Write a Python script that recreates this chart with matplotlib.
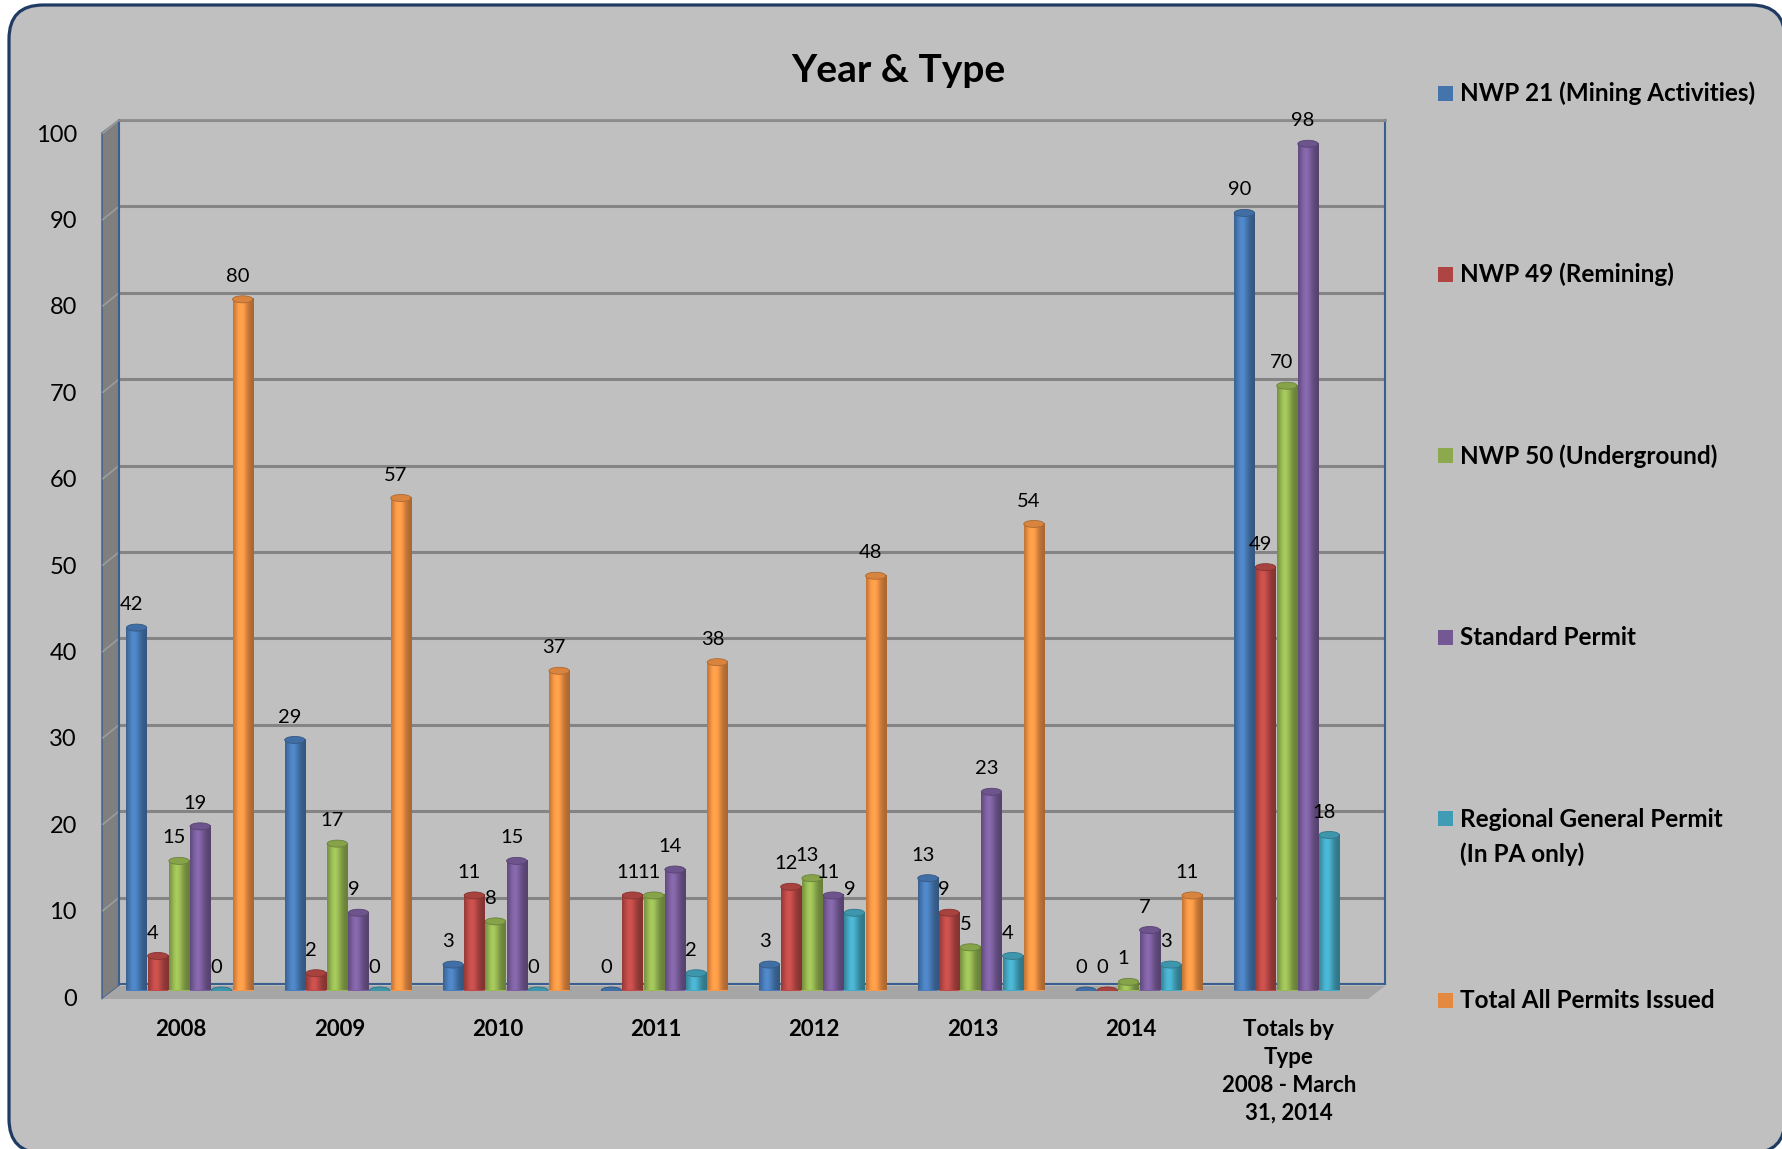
import matplotlib.pyplot as plt
import numpy as np
from matplotlib.patches import FancyBboxPatch, Polygon, Ellipse, Rectangle
from matplotlib.colors import to_rgb

plt.rcParams['font.family'] = ['Lato', 'DejaVu Sans']

categories = ['2008', '2009', '2010', '2011', '2012', '2013', '2014',
              'Totals by\nType\n2008 - March\n31, 2014']
series = ['NWP 21 (Mining Activities)', 'NWP 49 (Remining)', 'NWP 50 (Underground)',
          'Standard Permit', 'Regional General Permit\n(In PA only)', 'Total All Permits Issued']
nwp21 = [42, 29, 3, 0, 3, 13, 0, 90]
nwp49 = [4, 2, 11, 11, 12, 9, 0, 49]
nwp50 = [15, 17, 8, 11, 13, 5, 1, 70]
standard = [19, 9, 15, 14, 11, 23, 7, 98]
regional = [0, 0, 0, 2, 9, 4, 3, 18]
total_all = [80, 57, 37, 38, 48, 54, 11, None]
colors = ['#4A7EBB', '#BE4B48', '#98B954', '#7D60A0', '#46AAC5', '#F79646']
yticks = list(range(0, 101, 10))

W, H = 1783, 1149
fig = plt.figure(figsize=(W / 100, H / 100), dpi=100)
fig.patch.set_facecolor('white')


def px_axes(left, top, right, bottom, **kw):
    """axes placed by pixel box (y measured from the top)"""
    return fig.add_axes([left / W, 1 - bottom / H, (right - left) / W, (bottom - top) / H], **kw)


# full-figure pixel canvas for the frame and the 3d walls
bg = fig.add_axes([0, 0, 1, 1])
bg.set_xlim(0, W)
bg.set_ylim(H, 0)
bg.axis('off')
bg.add_patch(FancyBboxPatch((9, 5), 1776, 1148, boxstyle='round,pad=0,rounding_size=34',
                            fc='#C0C0C0', ec='#1F3B64', lw=2.3))

# front plane of the plot, depth offset of the back wall
FL, FR, FT, FB = 102, 1368, 133, 997
DX, DY = 17, -13
scale = (FB - FT) / 100.0

# left side wall and floor
bg.add_patch(Polygon([(FL, FB + 2), (FL + DX, FB + DY + 2), (FL + DX, FT + DY), (FL, FT)],
                     closed=True, fc='#7F7F7F', ec='#3A5F8F', lw=1))
bg.add_patch(Polygon([(FL, FB + 2), (FR, FB + 2), (FR + DX, FB + DY + 2), (FL + DX, FB + DY + 2)],
                     closed=True, fc='#A6A6A6', ec='none'))
for t in yticks[1:]:
    bg.plot([FL + 1, FL + DX], [FB - t * scale, FB + DY - t * scale], color='#9C9C9C', lw=1.2)

# back wall with gridlines
back = px_axes(FL + DX, FT + DY, FR + DX, FB + DY)
back.set_facecolor('none')
back.set_xlim(0, 1)
back.set_ylim(0, 100)
back.set_yticks(yticks)
back.set_xticks([])
back.yaxis.grid(True, color='#848484', lw=2.2)
back.tick_params(left=False, labelleft=False)
for side in ['left', 'right', 'bottom']:
    back.spines[side].set_color('#3A5F8F')
    back.spines[side].set_linewidth(1.5)
back.spines['top'].set_color('#8C8C8C')
back.spines['top'].set_linewidth(2)

# bars sit half way into the depth
mid = px_axes(FL + DX / 2, FT + DY / 2, FR + DX / 2, FB + DY / 2)
mid.set_facecolor('none')
mid.axis('off')

slot, bw = 0.134, 0.128
cap_h = 7 / scale
tt = np.linspace(0, 1, 64)
shade = 0.68 + 0.42 * np.exp(-((tt - 0.38) / 0.32) ** 2)

for i, (vals, col) in enumerate(zip([nwp21, nwp49, nwp50, standard, regional, total_all], colors)):
    base = np.array(to_rgb(col))
    xs = [k for k, v in enumerate(vals) if v is not None]
    vs = [vals[k] for k in xs]
    pos = np.array(xs) + (i - 2.5) * slot
    bars = mid.bar(pos, vs, bw, color=col, zorder=2)
    grad = np.clip(base[None, :] * shade[:, None], 0, 1)[None, :, :]
    for b, v in zip(bars, vs):
        x0, x1 = b.get_x(), b.get_x() + b.get_width()
        xc = b.get_x() + b.get_width() / 2
        mid.add_patch(Ellipse((xc, 0), bw, cap_h, fc=base * 0.7, ec='none', zorder=1.9))
        if v > 0:
            mid.imshow(grad, extent=(x0, x1, 0, v), aspect='auto', zorder=2.1,
                       interpolation='bilinear')
        mid.add_patch(Ellipse((xc, v), bw, cap_h, fc=np.clip(base * 0.88, 0, 1),
                              ec=base * 0.7, lw=0.6, zorder=2.2))
        mid.annotate(str(v), (xc, v), xytext=(-3.6, 16.5), textcoords='offset points',
                     ha='center', va='center', fontsize=14.5, zorder=3)
mid.set_xlim(-0.5, len(categories) - 0.5)
mid.set_ylim(0, 100)

# front plane carries the axis labels
front = px_axes(FL, FT, FR, FB)
front.set_facecolor('none')
for s in front.spines.values():
    s.set_visible(False)
front.set_xlim(-0.5, len(categories) - 0.5)
front.set_ylim(0, 100)
front.set_yticks(yticks)
front.set_yticklabels([str(t) for t in yticks], fontsize=17)
front.set_xticks(range(len(categories)))
front.set_xticklabels(categories, fontsize=16, fontweight='bold')
for lbl in front.get_xticklabels():
    lbl.set_linespacing(1.4)
front.tick_params(axis='y', length=0, pad=18)
front.tick_params(axis='x', length=0, pad=16)

fig.text(898 / W, 1 - 82 / H, 'Year & Type', ha='center', va='baseline',
         fontsize=28, fontweight='bold')

# legend, one entry per series down the right side
for i, (name, col) in enumerate(zip(series, colors)):
    yb = 101 + i * 181.4
    bg.add_patch(Rectangle((1438, yb - 15.5), 15, 15, fc=np.clip(np.array(to_rgb(col)) * 0.92, 0, 1)))
    for j, line in enumerate(name.split('\n')):
        bg.text(1460, yb + j * 35, line, ha='left', va='baseline', fontsize=17.5, fontweight='bold')

fig.savefig('out.png', dpi=100)
